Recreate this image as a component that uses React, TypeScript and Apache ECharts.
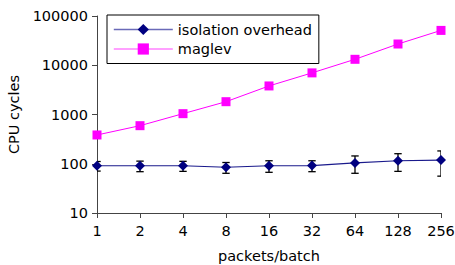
import React, { useEffect, useRef } from "react";
import * as echarts from "echarts";

const categories = ["1", "2", "4", "8", "16", "32", "64", "128", "256"];
const isolationOverhead = [91, 91, 91, 85, 91, 92, 104, 115, 119];
const isolationError = [20, 22, 21, 21, 24, 23, 40, 45, 63];
const maglev = [384, 593, 1040, 1820, 3800, 7000, 13200, 27000, 51000];
const yTicks = [10, 100, 1000, 10000, 100000];

export default function App() {
  const ref = useRef<HTMLDivElement>(null);
  useEffect(() => {
    if (!ref.current) return;
    const chart = echarts.init(ref.current, undefined, { renderer: "svg" });
    const font = "DejaVu Sans";
    const fs = 14.5;
    const errData = categories.map((_, i) => [
      i,
      isolationOverhead[i] - isolationError[i],
      isolationOverhead[i] + isolationError[i],
    ]);
    chart.setOption({
      animation: false,
      textStyle: { fontFamily: font },
      grid: { left: 97, right: 14, top: 16, bottom: 52, containLabel: false, outerBoundsMode: "none" },
      legend: {
        orient: "vertical",
        left: 107,
        top: 15,
        backgroundColor: "#fff",
        borderColor: "#000",
        borderWidth: 1,
        borderRadius: 0,
        padding: [7, 7, 7, 6],
        itemGap: 4.5,
        itemWidth: 59,
        itemHeight: 14,
        textStyle: { fontSize: fs, lineHeight: 14, color: "#000", fontFamily: font },
        data: [
          {
            name: "isolation overhead",
            lineStyle: { color: "#6a6ab8", width: 1.6 },
            itemStyle: { color: "#000080" },
          },
          {
            name: "maglev",
            lineStyle: { color: "#ff80ff", width: 1.6 },
            itemStyle: { color: "#ff00ff" },
          },
        ],
      },
      xAxis: {
        type: "category",
        data: categories,
        boundaryGap: false,
        name: "packets/batch",
        nameLocation: "middle",
        nameGap: 35,
        nameTextStyle: { fontSize: fs, color: "#000", fontFamily: font },
        axisLine: { lineStyle: { color: "#444", width: 1 } },
        axisTick: { show: true, length: 5, inside: false, lineStyle: { color: "#444" } },
        axisLabel: { fontSize: fs, color: "#000", margin: 10, fontFamily: font },
        splitLine: { show: false },
      },
      yAxis: {
        type: "log",
        logBase: 10,
        min: 10,
        max: 100000,
        name: "CPU cycles",
        nameLocation: "middle",
        nameGap: 73,
        nameTextStyle: { fontSize: fs, color: "#000", fontFamily: font },
        axisLine: { show: true, lineStyle: { color: "#444", width: 1 } },
        axisTick: { show: true, length: 5, inside: false, lineStyle: { color: "#444" } },
        axisLabel: {
          fontSize: fs,
          color: "#000",
          margin: 9,
          fontFamily: font,
          formatter: (v: number) => (yTicks.includes(Math.round(v)) ? String(Math.round(v)) : ""),
        },
        splitLine: { show: false },
        minorTick: { show: false },
      },
      series: [
        {
          type: "custom",
          name: "err",
          clip: true,
          z: 1,
          silent: true,
          data: errData,
          encode: { x: 0, y: [1, 2] },
          renderItem: (params: any, api: any) => {
            const x = api.value(0);
            const lo = api.coord([x, api.value(1)]);
            const hi = api.coord([x, api.value(2)]);
            const w = 3.7;
            const style = { stroke: "#000", lineWidth: 1.3 };
            return {
              type: "group",
              children: [
                { type: "line", shape: { x1: lo[0], y1: lo[1], x2: hi[0], y2: hi[1] }, style },
                { type: "line", shape: { x1: lo[0] - w, y1: lo[1], x2: lo[0] + w, y2: lo[1] }, style },
                { type: "line", shape: { x1: hi[0] - w, y1: hi[1], x2: hi[0] + w, y2: hi[1] }, style },
              ],
            };
          },
        },
        {
          type: "line",
          name: "isolation overhead",
          data: isolationOverhead,
          z: 3,
          symbol: "diamond",
          symbolSize: 10,
          showAllSymbol: true,
          itemStyle: { color: "#000080" },
          lineStyle: { color: "#1a1a8c", width: 1.2 },
        },
        {
          type: "line",
          name: "maglev",
          data: maglev,
          z: 3,
          symbol: "rect",
          symbolSize: 9,
          showAllSymbol: true,
          itemStyle: { color: "#ff00ff" },
          lineStyle: { color: "#ff00ff", width: 1 },
        },
      ],
    });
    return () => chart.dispose();
  }, []);
  return <div ref={ref} style={{ width: 455, height: 265, position: "absolute", left: 0, top: 0 }} />;
}
